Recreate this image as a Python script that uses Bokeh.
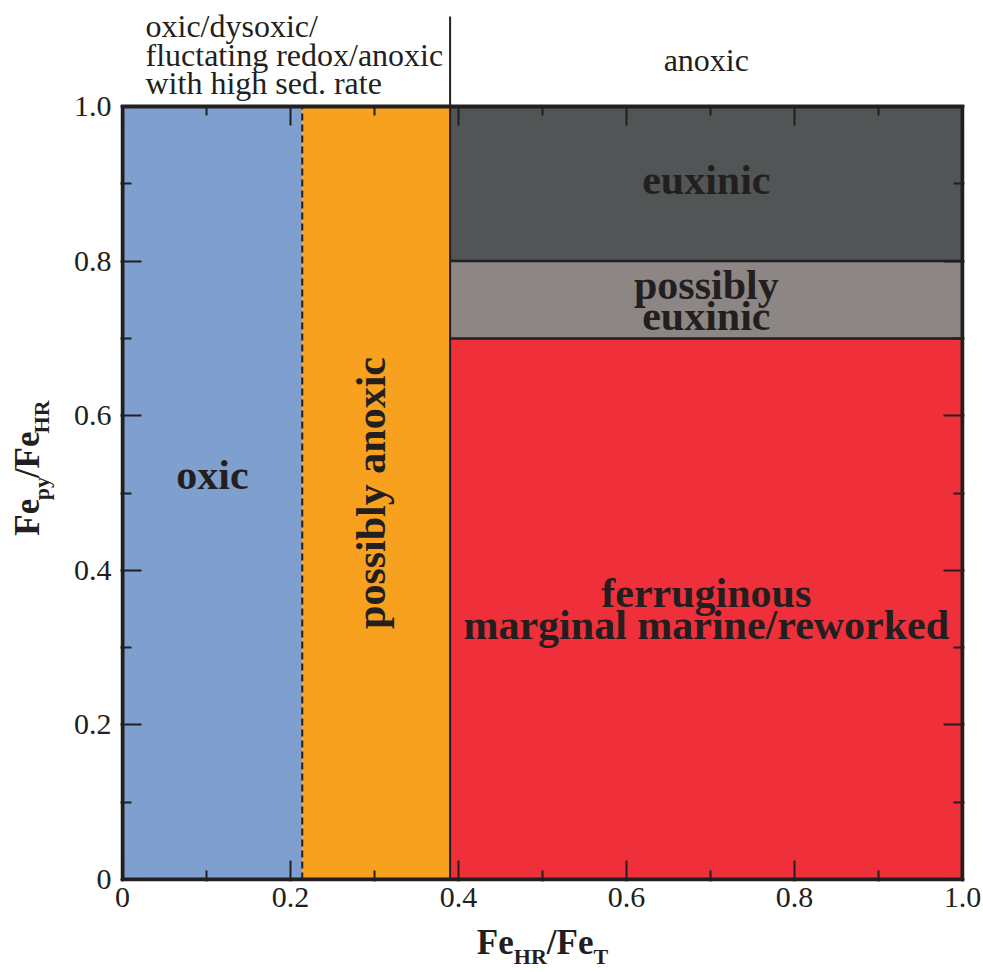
import math
from bokeh.plotting import figure
from bokeh.layouts import column, row
from bokeh.models import Range1d, LinearAxis, FixedTicker, Label, ColumnDataSource
from bokeh.embed import file_html
from bokeh.resources import INLINE

# ---- data ----
x_bounds = [0.0, 0.214, 0.39, 1.0]          # oxic | possibly anoxic | anoxic
y_bounds = [0.0, 0.7, 0.8, 1.0]             # ferruginous | possibly euxinic | euxinic
region_names = ["oxic", "possibly anoxic", "ferruginous", "possibly euxinic", "euxinic"]
region_left = [x_bounds[0], x_bounds[1], x_bounds[2], x_bounds[2], x_bounds[2]]
region_right = [x_bounds[1], x_bounds[2], x_bounds[3], x_bounds[3], x_bounds[3]]
region_bottom = [y_bounds[0], y_bounds[0], y_bounds[0], y_bounds[1], y_bounds[2]]
region_top = [y_bounds[3], y_bounds[3], y_bounds[1], y_bounds[2], y_bounds[3]]
region_colors = ["#7f9fce", "#f7a11f", "#ef2f39", "#8c8685", "#515556"]

major_ticks = [0.0, 0.2, 0.4, 0.6, 0.8, 1.0]
minor_ticks = [0.1, 0.3, 0.5, 0.7, 0.9]
tick_labels = ["0", "0.2", "0.4", "0.6", "0.8", "1.0"]

INK = "#231f20"
SERIF = "Liberation Serif"
BASE_FIX = 0.29   # baseline correction (fraction of font size)

# ---- layout geometry (pixels) ----
W_TOTAL, LEFT_W = 983, 60
PX_X, PX_Y = 840, 773            # pixels per data unit
PAD = 2                          # half frame-line width
TOP_PX = 106                     # space above y = 1 (inside the frame)
MAIN_FRAME_H = TOP_PX + PX_Y + PAD
MAIN_BOTTOM = 39
MAIN_H = MAIN_FRAME_H + MAIN_BOTTOM
BOT_H = 971 - MAIN_H
FRAME_L = 120                    # page x of frame left edge
FRAME_R = W_TOTAL - (FRAME_L + PX_X + 2 * PAD)

xr = Range1d(-PAD / PX_X, 1 + PAD / PX_X)
yr = Range1d(-PAD / PX_Y, 1 + TOP_PX / PX_Y)
line_top = 1 + 90 / PX_Y         # vertical divider reaches above the box


def bare_fig(w, h, x_range, y_range, ml=0, mr=0):
    f = figure(width=w, height=h, x_range=x_range, y_range=y_range, output_backend="svg",
               toolbar_location=None, title=None, x_axis_location=None, y_axis_location=None,
               min_border_left=ml, min_border_right=mr, min_border_top=0, min_border_bottom=0)
    f.outline_line_color = None
    f.background_fill_color = "white"
    f.border_fill_color = "white"
    f.xgrid.visible = False
    f.ygrid.visible = False
    return f


def lab(f, text, x, y, size, bold=True, align="center", angle=0.0, xo=0, yo=0):
    fix = BASE_FIX * size
    if angle == 0.0:
        yo = yo + fix
    else:
        xo = xo - fix
    f.add_layout(Label(x=x, y=y, text=text, text_font=SERIF, text_font_size=f"{size}px",
                       text_font_style="bold" if bold else "normal", text_color=INK,
                       text_align=align, text_baseline="alphabetic", angle=angle,
                       x_offset=xo, y_offset=yo))


# ---------------- main plot ----------------
p = figure(width=W_TOTAL - LEFT_W, height=MAIN_H, x_range=xr, y_range=yr,
           output_backend="svg", toolbar_location=None, title=None,
           min_border_left=FRAME_L - LEFT_W, min_border_right=FRAME_R,
           min_border_top=0, min_border_bottom=MAIN_BOTTOM)
p.background_fill_color = "white"
p.border_fill_color = "white"
p.xgrid.visible = False
p.ygrid.visible = False
p.outline_line_color = None

src = ColumnDataSource(dict(left=region_left, right=region_right, bottom=region_bottom,
                            top=region_top, color=region_colors, name=region_names))
p.quad(left="left", right="right", bottom="bottom", top="top", fill_color="color",
       line_color=None, source=src)

# boundaries
p.segment(x0=[x_bounds[2], x_bounds[2]], x1=[x_bounds[3], x_bounds[3]],
          y0=[y_bounds[1], y_bounds[2]], y1=[y_bounds[1], y_bounds[2]],
          line_color=INK, line_width=2.5)
p.segment(x0=[x_bounds[1]], x1=[x_bounds[1]], y0=[y_bounds[0]], y1=[y_bounds[3]],
          line_color=INK, line_width=2, line_dash="7 4")
p.segment(x0=[x_bounds[2]], x1=[x_bounds[2]], y0=[y_bounds[0]], y1=[line_top],
          line_color=INK, line_width=2)

# heavy box around the diagram
p.quad(left=[x_bounds[0]], right=[x_bounds[-1]], bottom=[y_bounds[0]], top=[y_bounds[-1]],
       fill_color=None, line_color=INK, line_width=4, line_join="miter")

# inward ticks along the top edge of the box
TICK_MAJ, TICK_MIN = 19, 9
p.segment(x0=major_ticks, x1=major_ticks, y0=[1.0] * len(major_ticks),
          y1=[1.0 - TICK_MAJ / PX_Y] * len(major_ticks), line_color=INK, line_width=2)
p.segment(x0=minor_ticks, x1=minor_ticks, y0=[1.0] * len(minor_ticks),
          y1=[1.0 - TICK_MIN / PX_Y] * len(minor_ticks), line_color=INK, line_width=2)

overrides = {t: l for t, l in zip(major_ticks, tick_labels)}


def style_axis(ax, labels):
    ax.ticker = FixedTicker(ticks=major_ticks, minor_ticks=minor_ticks)
    ax.major_tick_in = TICK_MAJ + PAD
    ax.major_tick_out = 0
    ax.minor_tick_in = TICK_MIN + PAD
    ax.minor_tick_out = 0
    ax.major_tick_line_color = INK
    ax.minor_tick_line_color = INK
    ax.major_tick_line_width = 2
    ax.minor_tick_line_width = 2
    ax.axis_line_color = None
    ax.major_label_text_font = SERIF
    ax.major_label_text_font_size = "30px"
    if labels:
        ax.major_label_overrides = overrides
        ax.major_label_text_color = INK
    else:
        ax.major_label_text_color = None
        ax.major_label_standoff = 0


style_axis(p.xaxis[0], True)
style_axis(p.yaxis[0], True)
p.xaxis[0].major_label_standoff = 6
p.yaxis[0].major_label_standoff = 9
right_ax = LinearAxis()
style_axis(right_ax, False)
p.add_layout(right_ax, "right")

oxic_mid = (x_bounds[0] + x_bounds[1]) / 2
anox_mid = (x_bounds[2] + x_bounds[3]) / 2
lab(p, "oxic", oxic_mid, 0.5075, 42)
lab(p, "possibly anoxic", 0.3107, 0.5, 42, angle=math.pi / 2)
lab(p, "euxinic", anox_mid, 0.8887, 42)
lab(p, "possibly", anox_mid, 0.7533, 42)
lab(p, "euxinic", anox_mid, 0.7128, 42)
lab(p, "ferruginous", anox_mid, 0.3545, 42)
lab(p, "marginal marine/reworked", anox_mid, 0.3131, 42)

# headings above the box (baselines given in pixels above y = 1)
lab(p, "oxic/dysoxic/", 0.0, 1.0, 32, bold=False, align="left", xo=23, yo=71)
lab(p, "fluctating redox/anoxic", 0.0, 1.0, 32, bold=False, align="left", xo=23, yo=42.7)
lab(p, "with high sed. rate", 0.0, 1.0, 32, bold=False, align="left", xo=23, yo=14.3)
lab(p, "anoxic", anox_mid, 1.0, 32, bold=False, yo=37)

# ---------------- axis titles with subscripts ----------------
W = {"F": 0.611, "e": 0.444, "H": 0.778, "R": 0.722, "/": 0.278, "T": 0.667,
     "p": 0.556, "y": 0.5}
BIG, SUB, DROP = 35, 22, 10


def piece_w(t, s):
    return sum(W[c] for c in t) * (SUB if s else BIG)


x_title = [("Fe", False), ("HR", True), ("/Fe", False), ("T", True)]
y_title = [("Fe", False), ("py", True), ("/Fe", False), ("HR", True)]

bot = bare_fig(W_TOTAL, BOT_H, xr, Range1d(0, BOT_H), ml=FRAME_L, mr=FRAME_R)
x_base = (MAIN_H + BOT_H) - 952   # baseline height inside the strip
pos = -sum(piece_w(t, s) for t, s in x_title) / 2
for t, s in x_title:
    lab(bot, t, 0.5, x_base - (DROP if s else 0), SUB if s else BIG, align="left", xo=pos)
    pos += piece_w(t, s)

left = bare_fig(LEFT_W, MAIN_H, Range1d(0, LEFT_W), Range1d(0, MAIN_H))
y_center = MAIN_H - 489
pos = y_center - sum(piece_w(t, s) for t, s in y_title) / 2
for t, s in y_title:
    lab(left, t, 37 + (DROP if s else 0), pos, SUB if s else BIG, align="left",
        angle=math.pi / 2)
    pos += piece_w(t, s)

layout = column(row(left, p), bot)
open("out.html", "w").write(file_html(layout, INLINE))
